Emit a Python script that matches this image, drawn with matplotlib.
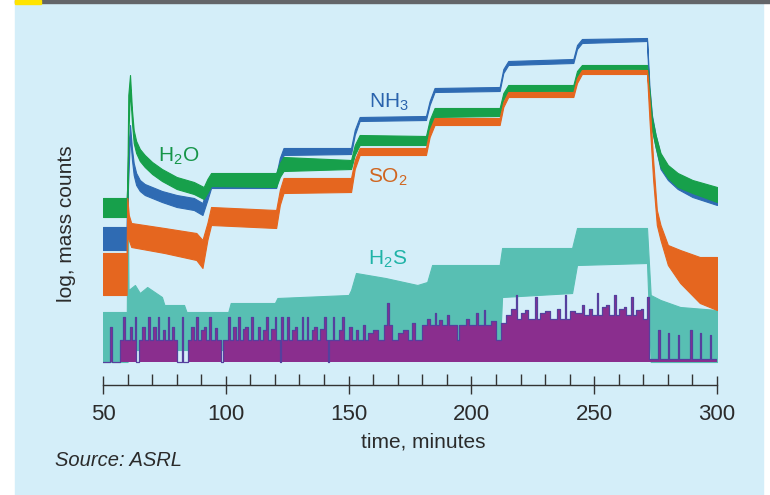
import matplotlib
matplotlib.use("Agg")
import matplotlib.pyplot as plt
from matplotlib.patches import Rectangle

plt.rcParams['font.family'] = ['Liberation Sans', 'DejaVu Sans']

# ---------------- data (time in minutes, signal in arbitrary log units) ----------------
green_t  = [50, 59.6, 59.9, 60.3, 61.0, 61.8, 62.5, 63.5, 65, 67, 70, 74, 80, 87, 91, 92.5, 94,
            120.5, 122, 123.5, 151, 152.5, 154.5, 181.5, 183, 185, 211.5, 213, 215, 241.5, 243, 245,
            271.5, 272.5, 273.5, 275, 277, 280, 284, 290, 300]
green_lo = [168, 168, 168, 250, 296, 262, 242, 232, 224, 218, 211, 204, 196, 191, 186, 192, 199,
            198, 208, 214, 216, 230, 240, 240, 256, 268, 269, 285, 293, 294, 308, 315,
            316, 280, 255, 238, 218, 207, 198, 192, 183]
green_hi = [187, 187, 200, 290, 310, 275, 255, 244, 236, 230, 223, 216, 208, 203, 198, 206, 212,
            212, 222, 228, 225, 240, 250, 249, 265, 277, 277, 292, 300, 300, 314, 320,
            320, 295, 268, 250, 232, 220, 212, 205, 198]

blue_t  = [50, 59.6, 60.2, 61.0, 61.8, 62.5, 63.5, 65, 67, 74, 80, 87, 90.5, 92.5, 94,
           120.5, 122, 123.5, 151, 152.5, 154.5, 181.5, 183, 185, 211.5, 213, 215, 241.5, 243, 245,
           271.5, 272.5, 273.5, 275, 277, 280, 284, 290, 300]
blue_lo = [135, 135, 200, 250, 225, 210, 200, 194, 190, 183, 178, 175, 170, 185, 197,
           197, 215, 230, 231, 250, 264, 265, 280, 293, 294, 312, 320, 322, 336, 342,
           344, 282, 257, 238, 216, 205, 196, 188, 180]
blue_hi = [158, 158, 230, 260, 236, 222, 212, 205, 201, 194, 190, 187, 182, 198, 209,
           210, 227, 237, 237, 255, 268, 269, 284, 297, 298, 316, 324, 326, 340, 346,
           347, 298, 270, 250, 230, 218, 210, 202, 196]

orange_t  = [50, 59.6, 59.9, 60.5, 61.5, 75, 88, 90.5, 92.5, 94, 120.5, 122, 123.5, 151, 152.5, 154.5,
             181.5, 183, 185, 211.5, 213, 215, 241.5, 243, 245, 271.5, 272.5, 274, 275.5, 277,
             280, 285, 293, 300]
orange_lo = [90, 90, 150, 145, 138, 132, 125, 117, 145, 160, 157, 180, 192, 193, 216, 230,
             230, 248, 260, 260, 278, 288, 288, 302, 311, 311, 265, 205, 160, 145,
             120, 102, 82, 75]
orange_hi = [132, 132, 187, 170, 162, 157, 152, 145, 162, 178, 175, 195, 207, 207, 225, 237,
             237, 255, 267, 267, 283, 293, 293, 307, 315, 315, 285, 225, 175, 160,
             140, 135, 128, 128]

teal_t  = [50, 59.7, 60.0, 60.4, 63, 65, 68, 74, 75, 83, 84, 101, 102, 120, 121, 150, 151, 153, 165, 178, 182,
           184, 211.5, 212.5, 241, 243, 271.5, 273, 277, 285, 300]
teal_lo = [23, 23, 23, 35, 35, 35, 35, 35, 35, 35, 35, 35, 35, 35, 35, 35, 35, 35, 35, 35, 35,
           35, 35, 88, 92, 120, 122, 23, 23, 23, 23]
teal_hi = [73, 73, 205, 95, 100, 92, 98, 88, 80, 80, 73, 73, 82, 82, 87, 90, 95, 112, 107, 100, 103,
           120, 120, 137, 137, 157, 157, 90, 85, 78, 75]

purple_t = [50, 53, 53.7, 57, 58.3, 59, 61, 62, 63, 63.6, 64.5, 66, 67, 68.3, 69, 70.5, 71.5, 72.3, 73,
            74.5, 75.3, 76.3, 77, 78, 79, 80, 82, 82.6, 84.5, 86, 87, 88, 88.6, 90, 91, 92, 93.3, 94,
            95.5, 96.5, 98, 98.8, 101, 101.6, 103, 104, 105, 105.6, 107, 108, 109, 110.3, 111, 113,
            114, 115, 116.3, 117, 118.5, 120, 120.6, 122, 122.6, 123.2, 125, 125.6, 127, 128, 129,
            131, 131.6, 133, 133.6, 135, 136, 137, 138.5, 140, 140.6, 141.5, 142.2, 143.5, 144.1,
            146, 147.5, 148.1, 150, 151.5, 153, 154, 156, 156.7, 158, 160, 162, 164.5, 165.8,
            166.4, 167.5, 170, 172, 174, 176, 177, 180, 182, 183, 185, 185.7, 187, 188, 190, 190.7,
            194, 195, 198, 199, 202, 202.7, 205, 205.7, 208, 210, 212, 214, 216, 218, 218.7, 220,
            222, 223, 226, 226.7, 228, 230, 232, 235, 236, 238, 238.7, 240, 242, 245, 246, 248,
            249, 251, 251.7, 253, 255, 256, 258, 258.7, 260, 262, 263, 265, 265.7, 267, 269, 270,
            271.5, 272.2, 276, 276.6, 280, 280.6, 284, 284.6, 289, 289.8, 293, 293.6, 297, 297.6, 300]
purple_h = [23, 58, 23, 45, 68, 45, 58, 45, 68, 23, 45, 58, 45, 68, 45, 58, 45, 68, 45,
            55, 45, 68, 45, 58, 45, 23, 68, 23, 45, 58, 45, 68, 45, 55, 58, 45, 68, 45,
            57, 45, 23, 45, 68, 45, 58, 45, 68, 45, 56, 58, 45, 68, 45, 58,
            45, 55, 68, 45, 56, 68, 45, 23, 68, 45, 68, 45, 55, 58, 45,
            68, 45, 68, 45, 55, 58, 45, 56, 68, 45, 23, 45, 68, 45,
            55, 68, 45, 58, 45, 55, 45, 60, 45, 52, 55, 45, 60, 82,
            60, 45, 52, 55, 45, 62, 45, 60, 66, 60, 72, 60, 65, 60, 70, 60,
            45, 60, 66, 60, 72, 60, 75, 60, 64, 45, 62, 70, 76, 90, 66, 72,
            75, 66, 88, 66, 72, 74, 66, 76, 66, 90, 66, 74, 72, 80, 70, 76,
            70, 92, 70, 78, 80, 70, 90, 70, 76, 78, 70, 88, 70, 75, 76, 66,
            88, 26, 55, 26, 52, 26, 50, 26, 55, 26, 52, 26, 50, 26, 26]
purple_base = 23

x_ticks = [50, 100, 150, 200, 250, 300]
x_minor = [50, 60, 70, 80, 90, 100, 110, 120, 130, 140, 150, 160, 170, 180, 190, 200,
           210, 220, 230, 240, 250, 260, 270, 280, 290, 300]

# ---------------- figure ----------------
W, H = 770, 495
fig = plt.figure(figsize=(7.7, 4.95), dpi=100)
fig.patch.set_facecolor('white')
fig.patches.append(Rectangle((15 / W, 0), (763 - 15) / W, (H - 3) / H,
                             transform=fig.transFigure, color='#d4eef9', zorder=-10))
fig.patches.append(Rectangle((15 / W, 1 - 3 / H), (W - 15) / W, 3 / H,
                             transform=fig.transFigure, color='#636569', zorder=-9))
fig.patches.append(Rectangle((15 / W, 1 - 4 / H), 26 / W, 4 / H,
                             transform=fig.transFigure, color='#ffe400', zorder=-8))

ax = fig.add_axes([103 / W, 110 / H, 614 / W, 365 / H])
ax.set_xlim(50, 300)
ax.set_ylim(0, 365)
ax.patch.set_alpha(0)

teal = '#58bfb3'
purple = '#8a2e8e'
blue = '#2f6bb3'
green = '#17a04b'
orange = '#e5661f'

ax.fill_between(teal_t, teal_lo, teal_hi, color=teal, lw=0.8, edgecolor=teal, zorder=1)
ax.fill_between(purple_t, purple_base, purple_h, step='post', color=purple, lw=0, zorder=2)
ax.step(purple_t, purple_h, where='post', color='#55409e', lw=0.9, zorder=2.5)
ax.fill_between(blue_t, blue_lo, blue_hi, color=blue, lw=0.8, edgecolor=blue, zorder=3)
ax.fill_between(green_t, green_lo, green_hi, color=green, lw=0.8, edgecolor=green, zorder=4)
ax.fill_between(orange_t, orange_lo, orange_hi, color=orange, lw=0.8, edgecolor=orange, zorder=5)

# series labels
fs = 15
ax.text(72.4, 224, r'H$_\mathregular{2}$O', color='#159548', fontsize=fs, va='baseline', ha='left', zorder=6)
ax.text(158.3, 278, r'NH$_\mathregular{3}$', color='#2a63ad', fontsize=fs, va='baseline', ha='left', zorder=6)
ax.text(157.9, 203, r'SO$_\mathregular{2}$', color='#d0651f', fontsize=fs, va='baseline', ha='left', zorder=6)
ax.text(157.9, 121, r'H$_\mathregular{2}$S', color='#1fb3a7', fontsize=fs, va='baseline', ha='left', zorder=6)

# axes styling
for s in ['top', 'left', 'right']:
    ax.spines[s].set_visible(False)
ax.spines['bottom'].set_color('#333333')
ax.spines['bottom'].set_linewidth(1.0)
ax.set_yticks([])
ax.set_xticks(x_ticks)
ax.set_xticks(x_minor, minor=True)
ax.tick_params(axis='x', which='major', direction='inout', length=13.5, width=1.0,
               color='#333333', labelsize=16, labelcolor='#2b2b2b', pad=7)
ax.tick_params(axis='x', which='minor', direction='in', length=8, width=1.0, color='#333333')

fig.text(66 / W, 1 - 224 / H, 'log, mass counts', rotation=90, ha='center', va='center',
         fontsize=15, color='#2b2b2b')
fig.text(423 / W, 1 - 442 / H, 'time, minutes', ha='center', va='center',
         fontsize=15, color='#2b2b2b')
fig.text(55 / W, 1 - 461 / H, 'Source: ASRL', ha='left', va='center',
         fontsize=14.5, style='italic', color='#2b2b2b')

fig.savefig('out.png', dpi=100, facecolor='white')
